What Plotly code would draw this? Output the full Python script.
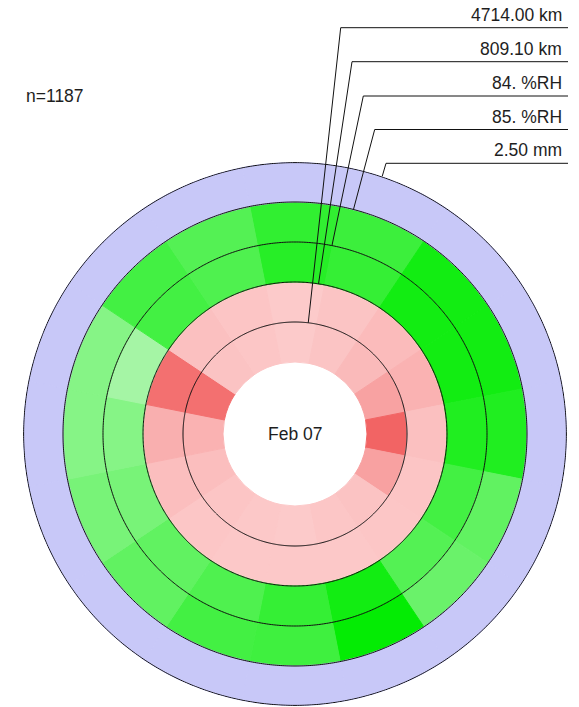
import numpy as np
import plotly.graph_objects as go

# ---------------- data ----------------
directions = ["N", "NNE", "NE", "ENE", "E", "ESE", "SE", "SSE",
              "S", "SSW", "SW", "WSW", "W", "WNW", "NW", "NNW"]

ring_labels = ["4714.00 km", "809.10 km", "84. %RH", "85. %RH", "2.50 mm"]

# relative intensity per direction sector (0 = palest, 1 = strongest)
ring_km_4714 = [0.00, 0.05, 0.13, 0.33, 0.84, 0.34, 0.06, 0.03,
                0.00, 0.02, 0.04, 0.10, 0.20, 0.74, 0.06, 0.03]
ring_km_809 = [0.00, 0.05, 0.12, 0.20, 0.08, 0.04, 0.03, 0.02,
               0.02, 0.02, 0.03, 0.10, 0.22, 0.74, 0.08, 0.04]
ring_rh_84 = [0.78, 0.70, 0.90, 0.90, 0.82, 0.62, 0.52, 0.90,
              0.70, 0.55, 0.45, 0.32, 0.24, 0.06, 0.62, 0.55]
ring_rh_85 = [0.72, 0.66, 0.90, 0.90, 0.82, 0.45, 0.40, 0.98,
              0.64, 0.62, 0.45, 0.32, 0.24, 0.24, 0.62, 0.52]
ring_mm = [0.0] * 16

sample_count = "n=1187"
center_label = "Feb 07"

# ---------------- styling ----------------
W, H = 579, 707
CX, CY = 295, 434          # centre of the rose (pixels)
R_MAX = 272                # outer radius (data units == pixels)
ring_bases = [72, 112, 152, 192, 232]
ring_width = 40
pink_scale = [[0, "rgb(252,202,202)"], [1, "rgb(240,80,80)"]]
green_scale = [[0, "rgb(176,246,176)"], [1, "rgb(0,236,0)"]]
blue_scale = [[0, "rgb(200,200,248)"], [1, "rgb(120,120,240)"]]
ring_scales = [pink_scale, pink_scale, green_scale, green_scale, blue_scale]
ring_values = [ring_km_4714, ring_km_809, ring_rh_84, ring_rh_85, ring_mm]
leader_angles = [6.8, 8.9, 11.1, 14.6, 18.7]   # where leader lines touch the ring
label_line_y = [27.7, 61.7, 96.0, 129.5, 163.3]
label_line_x0 = [340.7, 352.0, 363.3, 374.7, 386.0]
label_line_x1 = 568
FONT = "Liberation Sans, Arial, sans-serif"
TXT = "#1e1e1e"
FS = 17.5


def px(x):
    return x / W


def py(y):
    return 1 - y / H


n = len(directions)
theta = [i * 360.0 / n for i in range(n)]

fig = go.Figure()
for vals, base, cs in zip(ring_values, ring_bases, ring_scales):
    fig.add_trace(go.Barpolar(
        r=[ring_width] * n, base=[base] * n, theta=theta, width=[360.0 / n] * n,
        marker=dict(color=vals, colorscale=cs, cmin=0, cmax=1,
                    line=dict(color=vals, colorscale=cs, cmin=0, cmax=1, width=1)),
        hoverinfo="skip", showlegend=False))

circle_theta = np.linspace(0, 360, 721)
for rr in ring_bases[1:] + [R_MAX - 0.6]:
    fig.add_trace(go.Scatterpolar(
        r=[rr] * len(circle_theta), theta=circle_theta, mode="lines",
        line=dict(color="#111111", width=1), hoverinfo="skip", showlegend=False))

dom_x = [(CX - R_MAX) / W, (CX + R_MAX) / W]
dom_y = [max(0.0, 1 - (CY + R_MAX) / H), 1 - (CY - R_MAX) / H]

shapes = []
annotations = []
for i, lab in enumerate(ring_labels):
    rr = ring_bases[i] + ring_width
    ang = np.radians(leader_angles[i])
    ex, ey = CX + rr * np.sin(ang), CY - rr * np.cos(ang)
    x0, y0 = label_line_x0[i], label_line_y[i]
    shapes.append(dict(type="line", xref="paper", yref="paper",
                       x0=px(x0), y0=py(y0), x1=px(label_line_x1), y1=py(y0),
                       line=dict(color="#111111", width=1)))
    shapes.append(dict(type="line", xref="paper", yref="paper",
                       x0=px(x0), y0=py(y0), x1=px(ex), y1=py(ey),
                       line=dict(color="#111111", width=1)))
    annotations.append(dict(text=lab, xref="paper", yref="paper",
                            x=px(564), y=py(y0 - 1), xanchor="right", yanchor="bottom",
                            showarrow=False, font=dict(family=FONT, size=FS, color=TXT)))

annotations.append(dict(text=sample_count, xref="paper", yref="paper",
                        x=px(24), y=py(96), xanchor="left", yanchor="middle",
                        showarrow=False, font=dict(family=FONT, size=FS, color=TXT)))
annotations.append(dict(text=center_label, xref="paper", yref="paper",
                        x=px(CX), y=py(CY), xanchor="center", yanchor="middle",
                        showarrow=False, font=dict(family=FONT, size=FS, color=TXT)))

fig.update_layout(
    width=W, height=H, margin=dict(l=0, r=0, t=0, b=0),
    paper_bgcolor="white", plot_bgcolor="white", showlegend=False,
    hovermode=False,
    polar=dict(domain=dict(x=dom_x, y=dom_y), bgcolor="rgba(0,0,0,0)",
               bargap=0,
               radialaxis=dict(range=[0, R_MAX], visible=False),
               angularaxis=dict(visible=False, rotation=90, direction="clockwise")),
    shapes=shapes, annotations=annotations,
)

fig.write_html("out.html", config={"displayModeBar": False},
               post_script="document.body.style.margin='0';document.body.style.overflow='hidden';")
